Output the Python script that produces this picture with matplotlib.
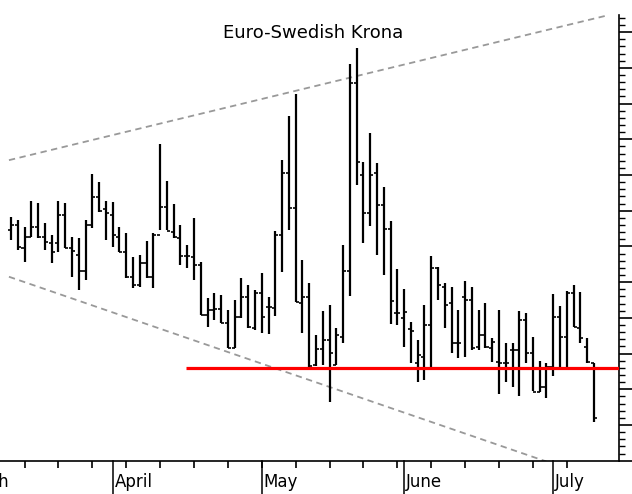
import matplotlib
matplotlib.use('Agg')
import matplotlib.pyplot as plt
from matplotlib.ticker import MultipleLocator, NullFormatter
import numpy as np
import pandas as pd

title = 'Euro-Swedish Krona'
first_day = '2004-03-11'
last_day = '2004-07-09'
month_names = ['March', 'April', 'May', 'June', 'July']
month_starts = ['2004-03-01', '2004-04-01', '2004-05-03', '2004-06-01', '2004-07-01']

# daily OHLC
opens = [9.2092, 9.2120, 9.1991, 9.2053, 9.2109, 9.2053, 9.2019, 9.2019, 9.2176, 9.1991,
         9.1952, 9.1862, 9.2120, 9.2277, 9.2210, 9.2176, 9.2053, 9.1969, 9.1829, 9.1784,
         9.1907, 9.1829, 9.2064, 9.2221, 9.2081, 9.2047, 9.1946, 9.1941, 9.1896, 9.1616,
         9.1644, 9.1650, 9.1571, 9.1431, 9.1605, 9.1717, 9.1543, 9.1739, 9.1661, 9.1655,
         9.2064, 9.2411, 9.2215, 9.1683, 9.1717, 9.1336, 9.1426, 9.1476, 9.1336, 9.1493,
         9.1862, 9.2915, 9.2400, 9.2187, 9.2411, 9.2232, 9.2098, 9.1627, 9.1599, 9.1538,
         9.1347, 9.1381, 9.1560, 9.1879, 9.1773, 9.1683, 9.1459, 9.1717, 9.1700, 9.1437,
         9.1504, 9.1431, 9.1353, 9.1347, 9.1420, 9.1420, 9.1588, 9.1403, 9.1185, 9.1213,
         9.1325, 9.1605, 9.1493, 9.1739, 9.1543, 9.1437, 9.1347]
highs = [9.2165, 9.2148, 9.2109, 9.2254, 9.2243, 9.2131, 9.2064, 9.2254, 9.2243, 9.2053,
         9.2047, 9.2148, 9.2406, 9.2361, 9.2254, 9.2249, 9.2109, 9.2075, 9.1941, 9.1952,
         9.2030, 9.2075, 9.2574, 9.2366, 9.2238, 9.2120, 9.2008, 9.2159, 9.1913, 9.1711,
         9.1739, 9.1728, 9.1644, 9.1700, 9.1823, 9.1784, 9.1756, 9.1851, 9.1717, 9.2086,
         9.2484, 9.2730, 9.2854, 9.1924, 9.1795, 9.1504, 9.1638, 9.1672, 9.1543, 9.2008,
         9.3022, 9.3111, 9.2473, 9.2635, 9.2467, 9.2333, 9.2142, 9.1874, 9.1762, 9.1577,
         9.1476, 9.1672, 9.1946, 9.1885, 9.1795, 9.1773, 9.1644, 9.1806, 9.1773, 9.1644,
         9.1683, 9.1487, 9.1644, 9.1459, 9.1459, 9.1638, 9.1627, 9.1493, 9.1358, 9.1347,
         9.1734, 9.1666, 9.1750, 9.1784, 9.1745, 9.1487, 9.1347]
lows = [9.2036, 9.1980, 9.1913, 9.2053, 9.2047, 9.1980, 9.1907, 9.1969, 9.1991, 9.1829,
        9.1756, 9.1812, 9.2103, 9.2193, 9.2036, 9.1997, 9.1969, 9.1823, 9.1767, 9.1773,
        9.1823, 9.1767, 9.2092, 9.2092, 9.2047, 9.1896, 9.1879, 9.1812, 9.1616, 9.1549,
        9.1588, 9.1571, 9.1431, 9.1431, 9.1599, 9.1543, 9.1532, 9.1515, 9.1510, 9.1610,
        9.1857, 9.2092, 9.1689, 9.1515, 9.1325, 9.1330, 9.1336, 9.1129, 9.1336, 9.1459,
        9.1722, 9.2344, 9.2019, 9.2114, 9.1952, 9.1840, 9.1566, 9.1560, 9.1437, 9.1347,
        9.1241, 9.1252, 9.1325, 9.1700, 9.1543, 9.1403, 9.1375, 9.1381, 9.1420, 9.1420,
        9.1431, 9.1353, 9.1174, 9.1241, 9.1213, 9.1162, 9.1347, 9.1190, 9.1185, 9.1151,
        9.1274, 9.1325, 9.1325, 9.1549, 9.1459, 9.1347, 9.1017]
closes = [9.2120, 9.1997, 9.2053, 9.2109, 9.2053, 9.2025, 9.1969, 9.2176, 9.1991, 9.1974,
          9.1862, 9.2120, 9.2277, 9.2198, 9.2187, 9.2064, 9.1969, 9.1829, 9.1784, 9.1907,
          9.1829, 9.2064, 9.2221, 9.2086, 9.2053, 9.1946, 9.1946, 9.1896, 9.1616, 9.1644,
          9.1650, 9.1571, 9.1431, 9.1605, 9.1717, 9.1549, 9.1739, 9.1605, 9.1661, 9.2064,
          9.2411, 9.2215, 9.1689, 9.1717, 9.1330, 9.1426, 9.1476, 9.1403, 9.1504, 9.1862,
          9.2915, 9.2473, 9.2187, 9.2400, 9.2232, 9.2098, 9.1694, 9.1627, 9.1633, 9.1526,
          9.1392, 9.1560, 9.1879, 9.1784, 9.1672, 9.1459, 9.1459, 9.1700, 9.1431, 9.1504,
          9.1437, 9.1465, 9.1347, 9.1347, 9.1420, 9.1588, 9.1403, 9.1185, 9.1213, 9.1325,
          9.1605, 9.1493, 9.1739, 9.1549, 9.1487, 9.1353, 9.1039]

support_level = 9.132
support_from = 25.8          # bar position where the red line starts
upper_x = [-0.3, 88.0]
upper_y = [9.2483, 9.3294]
lower_x = [-0.3, 79.0]
lower_y = [9.1830, 9.0795]

days = pd.bdate_range(first_day, last_day)
pos = np.arange(len(days))
mondays = pos[days.weekday == 0]
month_pos = [np.busday_count(first_day, m) for m in month_starts]

fig = plt.figure(figsize=(6.32, 4.94), dpi=100)
ax = fig.add_axes([0.0, 0.0668, 0.9794, 0.9028])
x_right = 89.7
ax.set_xlim(-1.62, x_right)
ax.set_ylim(9.0798, 9.3296)

# trend channel
ax.plot(upper_x, upper_y, color='#999999', lw=1.3, dashes=(3.5, 2.5))
ax.plot(lower_x, lower_y, color='#999999', lw=1.3, dashes=(3.5, 2.5))

# OHLC bars
ax.vlines(pos, lows, highs, color='black', lw=1.6)
ax.hlines(opens, pos - 0.45, pos, color='black', lw=1.2)
ax.hlines(closes, pos, pos + 0.45, color='black', lw=1.2)

ax.hlines(support_level, support_from, x_right, color='#ff0000', lw=2.3, zorder=3)

for s in ['top', 'left']:
    ax.spines[s].set_visible(False)
for s in ['right', 'bottom']:
    ax.spines[s].set_linewidth(1.2)

ax.yaxis.tick_right()
ax.yaxis.set_major_locator(MultipleLocator(0.02))
ax.yaxis.set_minor_locator(MultipleLocator(0.004))
ax.yaxis.set_major_formatter(NullFormatter())
ax.yaxis.set_minor_formatter(NullFormatter())
ax.tick_params(axis='y', which='major', length=10, width=1.2, direction='out')
ax.tick_params(axis='y', which='minor', length=4.5, width=1.0, direction='out')

ax.set_xticks(mondays)
ax.set_xticklabels([])
ax.tick_params(axis='x', length=5, width=1.2, direction='out')

trans = ax.get_xaxis_transform()
for m, name in zip(month_pos, month_names):
    ax.plot([m, m], [0, -0.09], color='black', lw=1.1, transform=trans, clip_on=False)
    ax.text(m + 0.3, -0.026, name, transform=trans, ha='left', va='top',
            fontsize=12, family='DejaVu Sans')

fig.text(313 / 632, 1 - 33 / 494, title, ha='center', va='center',
         fontsize=13, family='DejaVu Sans')

fig.savefig('out.png', dpi=100)
